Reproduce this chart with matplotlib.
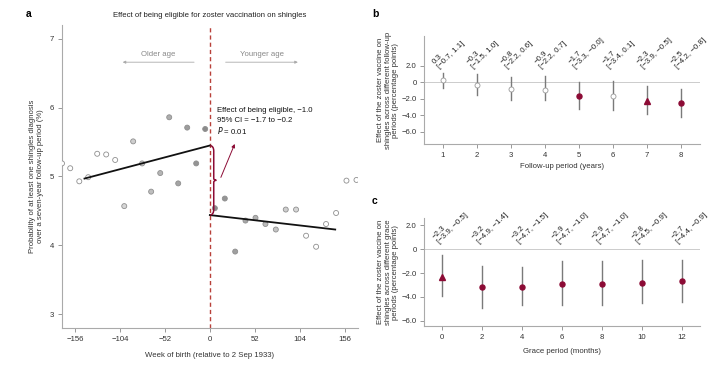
import matplotlib.pyplot as plt
from matplotlib.path import Path
from matplotlib.patches import PathPatch

plt.rcParams['font.family'] = ['Liberation Sans', 'DejaVu Sans']
plt.rcParams['font.size'] = 5.6
plt.rcParams['axes.unicode_minus'] = True

# panel a: binned shingles probability by week of birth
weeks_left = [-171.0, -161.5, -151.0, -140.7, -130.3, -119.9, -109.5, -99.0, -88.7,
              -78.3, -67.9, -57.4, -47.0, -36.6, -26.2, -15.8, -5.4]
prob_left = [5.19, 5.12, 4.93, 4.99, 5.33, 5.32, 5.24, 4.57, 5.51,
             5.19, 4.78, 5.05, 5.86, 4.90, 5.71, 5.19, 5.69]
weeks_right = [5.8, 17.3, 29.3, 41.2, 52.8, 64.3, 76.3, 87.8, 99.7,
               111.3, 122.9, 134.4, 146.0, 158.0, 169.6]
prob_right = [4.54, 4.68, 3.91, 4.36, 4.40, 4.31, 4.23, 4.52, 4.52,
              4.14, 3.98, 4.31, 4.47, 4.94, 4.95]
fit_left_x = [-145, 0]
fit_left_y = [4.97, 5.45]
fit_right_x = [0, 145]
fit_right_y = [4.44, 4.23]
bandwidth = 105

# panel b: follow-up periods
followup = [1, 2, 3, 4, 5, 6, 7, 8]
b_est = [0.3, -0.3, -0.8, -0.9, -1.7, -1.7, -2.3, -2.5]
b_lo = [-0.7, -1.5, -2.2, -2.2, -3.3, -3.4, -3.9, -4.2]
b_hi = [1.1, 1.0, 0.6, 0.7, -0.0, 0.1, -0.5, -0.8]
b_kind = ['open', 'open', 'open', 'open', 'circle', 'open', 'triangle', 'circle']

# panel c: grace periods
grace = [0, 2, 4, 6, 8, 10, 12]
c_est = [-2.3, -3.2, -3.2, -2.9, -2.9, -2.8, -2.7]
c_lo = [-3.9, -4.9, -4.7, -4.7, -4.7, -4.5, -4.4]
c_hi = [-0.5, -1.4, -1.5, -1.0, -1.0, -0.9, -0.9]
c_kind = ['triangle', 'circle', 'circle', 'circle', 'circle', 'circle', 'circle']

RED = '#8c0b35'
GREY = '#7a7a7a'
TXT = '#333333'


def style(ax):
    for s in ['top', 'right']:
        ax.spines[s].set_visible(False)
    for s in ['left', 'bottom']:
        ax.spines[s].set_color('#aaaaaa')
        ax.spines[s].set_linewidth(0.8)
    ax.tick_params(colors='#888888', labelcolor=TXT, length=3, width=0.6, labelsize=5.6, pad=2.5)


def fmt(v):
    return '0' if v == 0 else f'{v:.1f}'.replace('-', '\u2212')


def lab(v):
    return f'{v:.1f}'.replace('-', '\u2212')


fig = plt.figure(figsize=(7.27, 3.69), dpi=100)
W, H = 727, 369

# ---- a ----
ax = fig.add_axes([62 / W, 1 - 328 / H, 295.7 / W, 303 / H])
style(ax)
ax.set_xlim(-171, 171)
ax.set_ylim(2.8, 7.2)
ax.set_xticks([-156, -104, -52, 0, 52, 104, 156])
ax.set_xticklabels([str(t).replace('-', '\u2212') for t in [-156, -104, -52, 0, 52, 104, 156]])
ax.set_yticks([3, 4, 5, 6, 7])

wx = weeks_left + weeks_right
wy = prob_left + prob_right
faces = []
for w in wx:
    k = 1 - abs(w) / bandwidth
    if k <= 0:
        faces.append((1, 1, 1))
    else:
        g = 0.86 - 0.33 * k
        faces.append((g, g, g))
ax.scatter(wx, wy, s=13, c=faces, edgecolors='#8f8f8f', linewidths=0.6, zorder=3, clip_on=True)
ax.plot(fit_left_x, fit_left_y, color='#111111', lw=1.3, zorder=4)
ax.plot(fit_right_x, fit_right_y, color='#111111', lw=1.3, zorder=4)
ax.axvline(0, color='#b8413a', lw=1.0, ls=(0, (3, 2.2)), zorder=2)

# curly brace between the two fitted ends at the cutoff
top, bot = fit_left_y[1], fit_right_y[0]
mid = (top + bot) / 2
x0, x1, x2 = 0.5, 4.5, 7.5
verts = [(x0, top), (x1, top - 0.01), (x1, top - 0.08),
         (x1, mid + 0.03), (x1, mid), (x2, mid),
         (x1, mid), (x1, mid - 0.03), (x1, bot + 0.08),
         (x1, bot + 0.01), (x0, bot)]
codes = [Path.MOVETO, Path.CURVE3, Path.CURVE3, Path.LINETO, Path.CURVE3, Path.CURVE3,
         Path.CURVE3, Path.CURVE3, Path.LINETO, Path.CURVE3, Path.CURVE3]
ax.add_patch(PathPatch(Path(verts, codes), fill=False, color=RED, lw=1.1, zorder=5))
ax.annotate('', xy=(30, 5.51), xytext=(11.5, 4.95),
            arrowprops=dict(arrowstyle='-|>', color=RED, lw=0.7, mutation_scale=5))
ax.text(8.5, 5.955, 'Effect of being eligible, \u22121.0', ha='left', va='center', color='#111111')
ax.text(8.5, 5.81, '95% CI = \u22121.7 to \u22120.2', ha='left', va='center', color='#111111')
ax.text(8.5, 5.665, '$P$ = 0.01', ha='left', va='center', color='#111111')

ax.text(-60, 6.77, 'Older age', ha='center', va='center', color='#888888')
ax.text(60, 6.77, 'Younger age', ha='center', va='center', color='#888888')
ax.annotate('', xy=(-104, 6.66), xytext=(-15, 6.66),
            arrowprops=dict(arrowstyle='-|>', color='#aaaaaa', lw=0.6, mutation_scale=4))
ax.annotate('', xy=(105, 6.66), xytext=(15, 6.66),
            arrowprops=dict(arrowstyle='-|>', color='#aaaaaa', lw=0.6, mutation_scale=4))

ax.set_title('Effect of being eligible for zoster vaccination on shingles',
             fontsize=5.6, color='#222222', pad=6)
ax.set_xlabel('Week of birth (relative to 2 Sep 1933)', color=TXT, labelpad=7)
ax.set_ylabel('Probability of at least one shingles diagnosis\nover a seven-year follow-up period (%)',
              color=TXT, labelpad=4)


def effect_panel(ax, xs, est, lo, hi, kind, ylab, xlab, label_y, xpad):
    style(ax)
    ax.axhline(0, color='#cccccc', lw=0.7, zorder=1)
    for x, e, l, h, k in zip(xs, est, lo, hi, kind):
        ax.plot([x, x], [l, h], color=GREY, lw=1.0, zorder=2)
        if k == 'open':
            ax.plot(x, e, 'o', ms=3.6, mfc='white', mec='#999999', mew=0.6, zorder=3)
        elif k == 'triangle':
            ax.plot(x, e, '^', ms=4.0, mfc=RED, mec=RED, zorder=3)
        else:
            ax.plot(x, e, 'o', ms=3.6, mfc=RED, mec=RED, zorder=3)
        ax.text(x - 0.04 * (xs[1] - xs[0]), label_y, f'{lab(e)}\n[{lab(l)}, {lab(h)}]',
                rotation=45, ha='left', va='bottom', rotation_mode='anchor',
                color='#222222', fontsize=5.7, linespacing=1.05)
    ax.set_xticks(xs)
    ax.set_yticks([2, 0, -2, -4, -6])
    ax.set_yticklabels([fmt(v) for v in [2, 0, -2, -4, -6]])
    ax.set_xlabel(xlab, color=TXT, labelpad=xpad)
    ax.set_ylabel(ylab, color=TXT, labelpad=1.5, linespacing=1.15)


ax_b = fig.add_axes([424.3 / W, 1 - 144 / H, 275.7 / W, 108 / H])
ax_b.set_xlim(0.46, 8.57)
ax_b.set_ylim(-7.5, 5.6)
effect_panel(ax_b, followup, b_est, b_lo, b_hi, b_kind,
             'Effect of the zoster vaccine on\nshingles across different follow-up\nperiods (percentage points)',
             'Follow-up period (years)', 1.45, 3.5)

ax_c = fig.add_axes([424.3 / W, 1 - 326.3 / H, 275.7 / W, 108 / H])
ax_c.set_xlim(-0.9, 12.9)
ax_c.set_ylim(-6.47, 2.6)
effect_panel(ax_c, grace, c_est, c_lo, c_hi, c_kind,
             'Effect of the zoster vaccine on\nshingles across different grace\nperiods (percentage points)',
             'Grace period (months)', 0.35, 5)

fig.text(26 / W, 1 - 14 / H, 'a', fontsize=7.5, fontweight='bold', va='center')
fig.text(372 / W, 1 - 14 / H, 'b', fontsize=7.5, fontweight='bold', va='center')
fig.text(372 / W, 1 - 201 / H, 'c', fontsize=7.5, fontweight='bold', va='center')

fig.savefig('out.png', dpi=100)
